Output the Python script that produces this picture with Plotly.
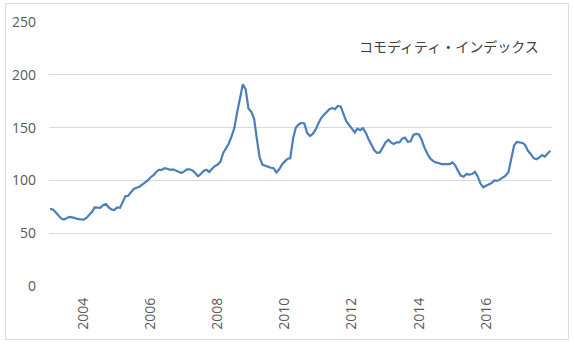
import plotly.graph_objects as go
import pandas as pd

title_text = "コモディティ・インデックス"
start_month = "2003-01-01"
values = [
    # 2003
    73, 72.5, 70, 67, 64, 63, 64, 65.5, 65, 64, 63.5, 63,
    # 2004
    62.8, 64.5, 67, 70, 74.5, 74.5, 74, 76.5, 77.5, 74.5, 72.5, 72,
    # 2005
    74.5, 74, 80, 85, 85.5, 88.5, 92, 93, 94, 96, 98, 100,
    # 2006
    103, 105, 108, 110, 110, 111.5, 111, 110, 110.5, 109.5, 108.5, 107,
    # 2007
    108.5, 110.5, 110.5, 109.5, 107, 104, 106, 109, 110, 108, 111, 113.5,
    # 2008
    115, 118, 126, 131, 135, 142, 150, 165, 178, 191, 186, 168,
    # 2009
    165, 158, 140, 122, 115, 114, 112.5, 112, 111.5, 107.5, 110.5, 115,
    # 2010
    118, 120.5, 121, 140, 150, 153, 154.5, 154, 145, 142, 144, 148,
    # 2011
    154, 159, 162, 165, 167.5, 168.5, 167.5, 170.5, 170, 163, 156, 152.5,
    # 2012
    148.5, 145.5, 149, 147.5, 149.5, 145, 139, 133, 128.5, 126, 126.5, 131,
    # 2013
    136, 138.5, 136, 134.5, 136, 136, 139.5, 140.5, 136.5, 137, 143, 144,
    # 2014
    143.5, 138, 131, 125.5, 121, 118.5, 117, 116.5, 115.5, 115.5, 115.5, 115.5,
    # 2015
    117, 114, 109, 104.5, 103.5, 106, 105.5, 106, 108, 104, 97, 93.5,
    # 2016
    95, 96.5, 97.5, 100, 99.5, 101, 102.5, 104.5, 108, 121, 133, 136.5,
    # 2017
    136, 135.5, 133.5, 128, 125, 121, 120, 121.5, 124, 122.5, 125.5, 128,
]
dates = pd.date_range(start_month, periods=len(values), freq="MS")

x_tick_vals = ["2004-01-01", "2006-01-01", "2008-01-01", "2010-01-01",
               "2012-01-01", "2014-01-01", "2016-01-01"]
x_tick_text = ["2004", "2006", "2008", "2010", "2012", "2014", "2016"]
y_tick_vals = [0, 50, 100, 150, 200, 250]

fig = go.Figure()
fig.add_trace(go.Scatter(
    x=dates, y=values, mode="lines",
    line=dict(color="#4a7ebb", width=2.2),
    hoverinfo="skip", showlegend=False,
))

L, R, T, B = 47, 22, 22, 59
W, H = 574, 345
pw, ph = W - L - R, H - T - B

def px_x(p):
    return (p - L) / pw

def px_y(p):
    return (H - B - p) / ph

fig.update_layout(
    width=W, height=H,
    margin=dict(l=L, r=R, t=T, b=B, pad=0),
    paper_bgcolor="white", plot_bgcolor="white",
    font=dict(family="Open Sans, Noto Sans CJK JP", size=14, color="#595959"),
    xaxis=dict(
        range=["2002-12-21", "2017-12-19"],
        tickvals=x_tick_vals, ticktext=x_tick_text,
        tickangle=-90, showgrid=False, zeroline=False,
        showline=False, ticks="", ticklabelstandoff=8,
        tickfont=dict(size=14, color="#595959"),
    ),
    yaxis=dict(
        range=[0, 250], tickvals=y_tick_vals,
        showgrid=True, gridcolor="#d9d9d9", gridwidth=1,
        zeroline=False, showline=False, ticks="", ticklabelstandoff=12,
        tickfont=dict(size=14, color="#595959"),
    ),
    shapes=[dict(
        type="rect", xref="paper", yref="paper",
        x0=px_x(3.5), x1=px_x(568.5), y0=px_y(339.5), y1=px_y(3.5),
        line=dict(color="#d9d9d9", width=1), fillcolor="rgba(0,0,0,0)",
        layer="below",
    )],
    annotations=[dict(
        text=title_text, xref="paper", yref="paper",
        x=px_x(541), y=px_y(46), xanchor="right", yanchor="middle",
        showarrow=False,
        font=dict(family="Noto Sans CJK JP", size=14, color="#404040"),
    )],
)

fig.write_html("out.html")
